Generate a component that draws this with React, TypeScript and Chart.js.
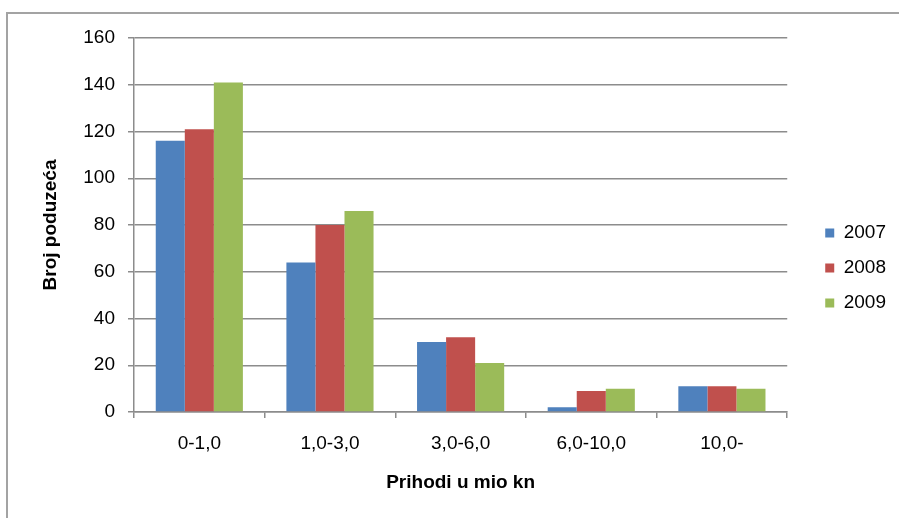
import React, { useEffect, useRef } from "react";
import { Chart, registerables } from "chart.js";

Chart.register(...registerables);

const categories = ["0-1,0", "1,0-3,0", "3,0-6,0", "6,0-10,0", "10,0-"];
const series2007 = [116, 64, 30, 2, 11];
const series2008 = [121, 80, 32, 9, 11];
const series2009 = [141, 86, 21, 10, 10];
const seriesNames = ["2007", "2008", "2009"];
const yTicks = { min: 0, max: 160, step: 20 };
const xTitle = "Prihodi u mio kn";
const yTitle = "Broj poduzeća";

const FONT = '"Liberation Sans", Arial, sans-serif';

export default function App() {
  const ref = useRef<HTMLCanvasElement | null>(null);

  useEffect(() => {
    if (!ref.current) return;
    const gridColor = "#8c8c8c";
    const chart = new Chart(ref.current, {
      type: "bar",
      data: {
        labels: categories,
        datasets: [
          { label: seriesNames[0], data: series2007, backgroundColor: "#4F81BD" },
          { label: seriesNames[1], data: series2008, backgroundColor: "#C0504D" },
          { label: seriesNames[2], data: series2009, backgroundColor: "#9BBB59" },
        ],
      },
      options: {
        responsive: false,
        animation: false,
        layout: { padding: { top: 38, bottom: 20, left: 0, right: 3 } },
        datasets: { bar: { categoryPercentage: 0.667, barPercentage: 1 } },
        plugins: {
          tooltip: { enabled: false },
          legend: {
            position: "right",
            labels: {
              boxWidth: 9,
              boxHeight: 9,
              padding: 16,
              color: "#000",
              font: { family: FONT, size: 19, lineHeight: 1.2 },
            },
          },
        },
        scales: {
          x: {
            grid: {
              display: true,
              drawOnChartArea: false,
              drawTicks: true,
              tickLength: 6,
              color: gridColor,
              lineWidth: 1.5,
            },
            border: { display: true, color: gridColor, width: 1.5 },
            ticks: {
              color: "#000",
              padding: 14,
              font: { family: FONT, size: 19, lineHeight: 1.2 },
              maxRotation: 0,
            },
            title: {
              display: true,
              text: xTitle,
              color: "#000",
              padding: { top: 0, bottom: 4 },
              font: { family: FONT, size: 19, weight: "bold", lineHeight: 1.2 },
            },
            afterFit: (s: any) => {
              s.height = 86;
            },
          },
          y: {
            min: yTicks.min,
            max: yTicks.max,
            ticks: {
              stepSize: yTicks.step,
              color: "#000",
              padding: 13,
              font: { family: FONT, size: 19, lineHeight: 1.2 },
            },
            grid: {
              color: gridColor,
              lineWidth: 1.5,
              tickLength: 6,
              drawTicks: true,
            },
            border: { display: true, color: gridColor, width: 1.5 },
            title: {
              display: true,
              text: yTitle,
              color: "#000",
              padding: { top: 39, bottom: 0 },
              font: { family: FONT, size: 19, weight: "bold", lineHeight: 1.2 },
            },
            afterFit: (s: any) => {
              s.width = 134;
            },
          },
          yRight: {
            type: "linear",
            position: "right",
            display: true,
            grid: { display: false, drawTicks: false },
            border: { display: false },
            ticks: { display: false },
            afterFit: (s: any) => {
              s.width = 22;
            },
          },
        },
      },
    } as any);
    return () => chart.destroy();
  }, []);

  return (
    <>
      <div
        style={{
          position: "fixed",
          left: 6,
          top: 12,
          right: -20,
          bottom: -20,
          border: "2px solid #a3a3a3",
        }}
      />
      <div style={{ position: "fixed", left: 0, top: 0, width: 899, height: 518 }}>
        <canvas ref={ref} width={899} height={518} style={{ display: "block" }} />
      </div>
    </>
  );
}
